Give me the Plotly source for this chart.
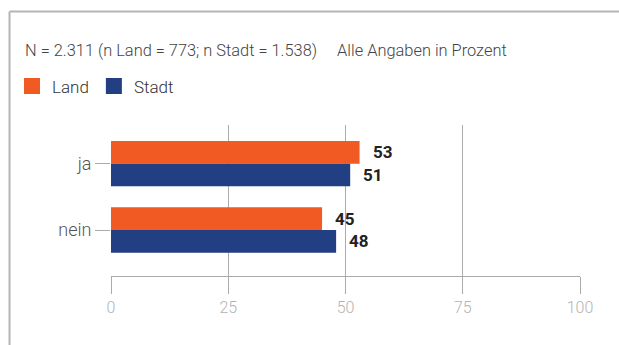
import plotly.graph_objects as go

# Survey answers, in percent
categories = ["ja", "nein"]
land = [53, 45]
stadt = [51, 48]
series_names = ["Land", "Stadt"]
series_colors = ["#f15a22", "#223f84"]
x_ticks = [0, 25, 50, 75, 100]

FONT = "Roboto, Lato, sans-serif"
GRID = "#ababab"

fig = go.Figure()

for name, values, color in zip(series_names, [land, stadt], series_colors):
    fig.add_trace(go.Bar(
        name=name,
        x=values,
        y=categories,
        orientation="h",
        marker=dict(color=color, line=dict(width=0)),
        showlegend=False,
        hoverinfo="x+name",
    ))
    # legend-only entry with a larger square swatch
    fig.add_trace(go.Scatter(
        name=name,
        x=[None],
        y=[None],
        mode="markers",
        marker=dict(symbol="square", size=17, color=color),
        showlegend=True,
    ))

# value labels at the end of each bar
half_bar = 11.3
for values, shift in [(land, half_bar), (stadt, -half_bar)]:
    for cat, v in zip(categories, values):
        fig.add_annotation(
            x=v, y=cat, text=f"<b>{v}</b>",
            xanchor="left", yanchor="middle",
            xshift=11, yshift=shift,
            showarrow=False,
            font=dict(family=FONT, size=17, color="#222222"),
        )

# frame (top and left edges)
frame = dict(color="#b5b5b5", width=2)
fig.add_shape(type="line", xref="paper", yref="paper",
              x0=-0.2164, x1=1.2, y0=1.7517, y1=1.7517, line=frame)
fig.add_shape(type="line", xref="paper", yref="paper",
              x0=-0.2164, x1=-0.2164, y0=1.7517, y1=-0.6, line=frame)

fig.update_layout(
    width=619,
    height=345,
    margin=dict(l=111, r=39, t=125, b=69),
    paper_bgcolor="white",
    plot_bgcolor="white",
    barmode="group",
    bargap=0.317,
    bargroupgap=0,
    font=dict(family=FONT, color="#444444"),
    title=dict(
        text="N = 2.311 (n Land = 773; n Stadt = 1.538)     Alle Angaben in Prozent",
        xref="container", yref="container",
        x=25 / 619, xanchor="left",
        y=1 - 50 / 345, yanchor="middle",
        font=dict(family=FONT, size=16.4, color="#444444", weight=300),
    ),
    legend=dict(
        orientation="h",
        xref="container", yref="container",
        x=12 / 619, xanchor="left",
        y=1 - 86.5 / 345, yanchor="middle",
        font=dict(family=FONT, size=17, color="#333333", weight=300),
        bgcolor="rgba(0,0,0,0)",
        itemclick=False,
    ),
    xaxis=dict(
        range=[0, 100],
        tickvals=x_ticks,
        showgrid=True,
        gridcolor=GRID,
        gridwidth=1,
        zeroline=False,
        showline=True,
        linecolor=GRID,
        linewidth=1,
        ticks="outside",
        ticklen=17,
        tickcolor=GRID,
        tickwidth=1,
        tickfont=dict(family=FONT, size=16, color="#b3b3b3", weight=300),
        fixedrange=True,
    ),
    yaxis=dict(
        type="category",
        categoryorder="array",
        categoryarray=categories,
        range=[1.694, -0.584],
        showgrid=False,
        zeroline=False,
        showline=False,
        ticks="outside",
        ticklen=15,
        tickcolor=GRID,
        tickwidth=1,
        tickfont=dict(family=FONT, size=18, color="#555555", weight=300),
        fixedrange=True,
    ),
)

fig.write_html("out.html")
